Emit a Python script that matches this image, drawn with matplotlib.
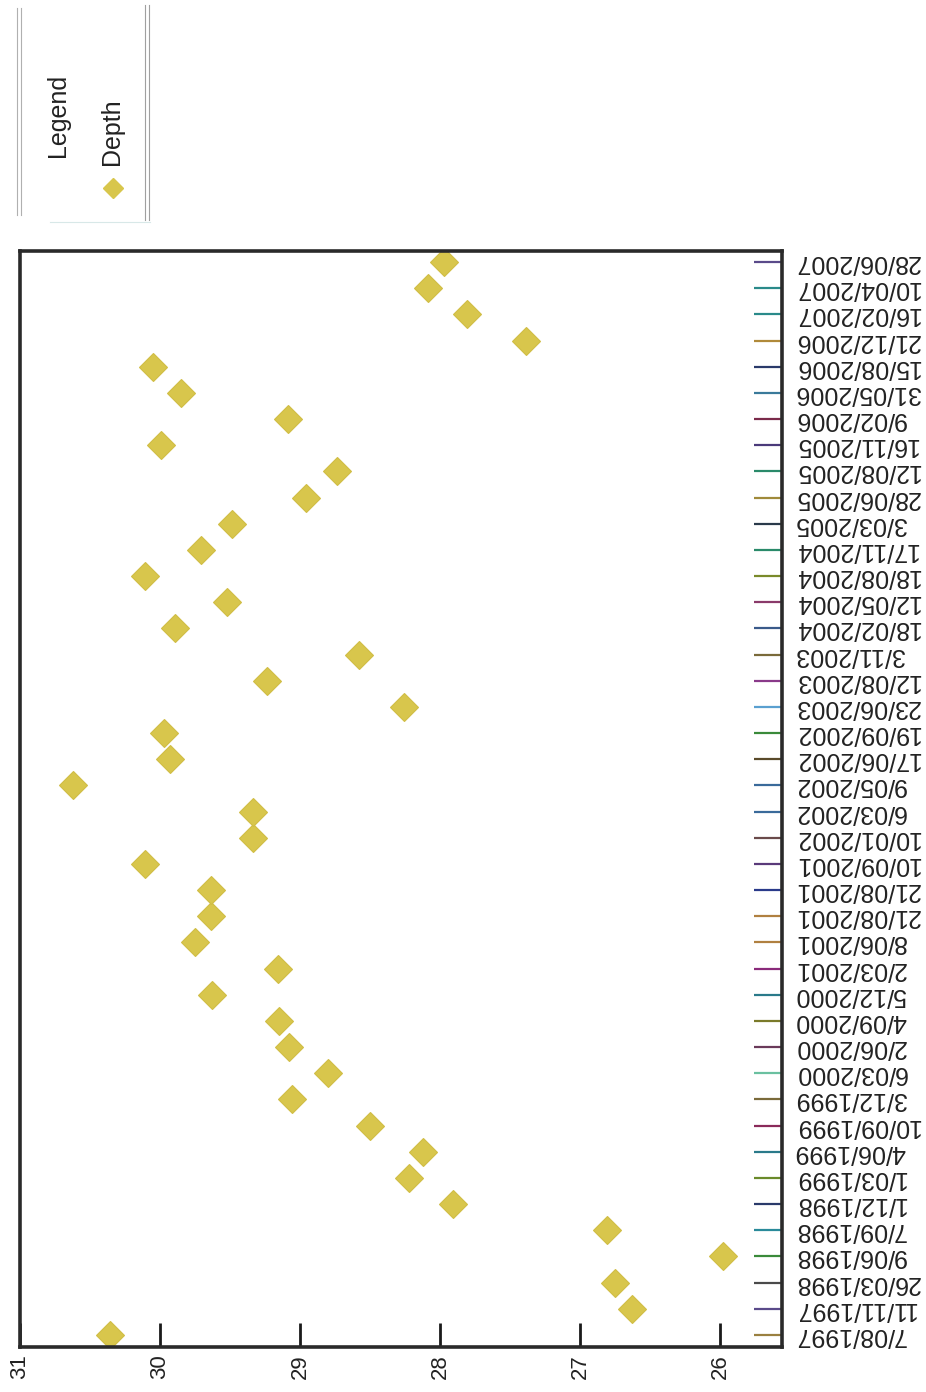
import matplotlib
matplotlib.use("Agg")
import matplotlib.pyplot as plt
from matplotlib.lines import Line2D

plt.rcParams['font.family'] = ['Liberation Sans', 'DejaVu Sans']

dates = ["7/08/1997", "11/11/1997", "26/03/1998", "9/06/1998", "7/09/1998",
         "1/12/1998", "1/03/1999", "4/06/1999", "10/09/1999", "3/12/1999",
         "6/03/2000", "2/06/2000", "4/09/2000", "5/12/2000", "2/03/2001",
         "8/06/2001", "21/08/2001", "21/08/2001", "10/09/2001", "10/01/2002",
         "6/03/2002", "9/05/2002", "17/06/2002", "19/09/2002", "23/06/2003",
         "12/08/2003", "3/11/2003", "18/02/2004", "12/05/2004", "18/08/2004",
         "17/11/2004", "3/03/2005", "28/06/2005", "12/08/2005", "16/11/2005",
         "9/02/2006", "31/05/2006", "15/08/2006", "21/12/2006", "16/02/2007",
         "10/04/2007", "28/06/2007"]

depth = [30.36, 26.63, 26.75, 25.98, 26.81,
         27.91, 28.22, 28.12, 28.50, 29.06,
         28.80, 29.08, 29.15, 29.63, 29.16,
         29.75, 29.64, 29.64, 30.11, 29.34,
         29.34, 30.62, 29.93, 29.97, 28.26,
         29.24, 28.58, 29.89, 29.52, 30.11,
         29.71, 29.49, 28.96, 28.74, 29.99,
         29.09, 29.85, 30.05, 27.39, 27.81,
         28.09, 27.97]

depth_ticks = [31, 30, 29, 28, 27, 26]

tick_colors = ["#9a8040", "#5a4a8a", "#4a4a4a", "#3a8a3a", "#2a8a9a",
               "#2a3a6a", "#6a8a2a", "#2a7a8a", "#8a2a5a", "#7a6a3a",
               "#6ac0a0", "#6a3a5a", "#7a7a2a", "#2a7a8a", "#8a2a7a",
               "#b08040", "#b08040", "#2a3a8a", "#5a3a7a", "#6a4a4a",
               "#3a6a9a", "#3a6a9a", "#5a4a2a", "#3a8a3a", "#5aa0d0",
               "#8a3a8a", "#7a6a3a", "#3a5a8a", "#8a3a6a", "#7a8a2a",
               "#2a8a6a", "#2a3a4a", "#a08a3a", "#2a8a6a", "#4a3a7a",
               "#7a2a4a", "#3a7a9a", "#2a3a6a", "#b08a3a", "#2a8a8a",
               "#2a8a8a", "#5a4a8a"]

W, H = 926, 1392
fig = plt.figure(figsize=(W / 100, H / 100), dpi=100)
fig.patch.set_facecolor("white")

left, right, top, bottom = 20, 782, 251, 1347
ax = fig.add_axes([left / W, (H - bottom) / H, (right - left) / W, (bottom - top) / H])
ax.set_facecolor("white")

idx = list(range(len(dates)))
ax.plot(depth, idx, linestyle="none", marker="D", markersize=14.5,
        color="#d8c64c", markeredgecolor="#d0bd45", markeredgewidth=0.8, zorder=3)

ax.set_xlim(31, 25.56)
ax.set_ylim(-0.46, 41.42)

ax.set_xticks(depth_ticks)
ax.set_xticklabels([str(t) for t in depth_ticks], rotation=90, fontsize=16, color="#222222")
ax.tick_params(axis="x", bottom=True, top=False, direction="in", length=0, pad=5)
# inward tick marks on the depth axis
ax.vlines(depth_ticks, 0, 0.022, transform=ax.get_xaxis_transform(),
          colors="#1a1a1a", linewidth=2.0, zorder=4, clip_on=False)

ax.yaxis.tick_right()
ax.set_yticks(idx)
ax.set_yticklabels(dates, rotation=180, fontsize=18, color="#222222")
ax.tick_params(axis="y", right=True, left=False, direction="in", length=20, width=1.6, pad=9)
for t, c in zip(ax.yaxis.get_major_ticks(), tick_colors):
    t.tick2line.set_markeredgecolor(c)
    t.tick2line.set_color(c)
for lbl in ax.get_yticklabels():
    lbl.set_ha("left")
    lbl.set_va("center")

for s in ax.spines.values():
    s.set_linewidth(2.6)
    s.set_color("#2a2a2a")
    s.set_zorder(5)

# legend (rotated, drawn manually)
def fx(x):
    return x / W

def fy(y):
    return (H - y) / H

for x0 in (17, 21):
    fig.add_artist(Line2D([fx(x0), fx(x0)], [fy(8), fy(215)], color="#b0b0b0", lw=0.8))
for x0 in (145, 149):
    fig.add_artist(Line2D([fx(x0), fx(x0)], [fy(5), fy(220)], color="#a0a0a0", lw=0.8))
fig.add_artist(Line2D([fx(50), fx(150)], [fy(222), fy(222)], color="#d8e8e8", lw=0.8))
fig.text(fx(58), fy(115), "Legend", rotation=90, ha="center", va="center",
         fontsize=18, color="#222222")
fig.text(fx(112), fy(132), "Depth", rotation=90, ha="center", va="center",
         fontsize=18, color="#222222")
fig.add_artist(Line2D([fx(113)], [fy(188)], marker="D", markersize=10,
                      color="#d8c64c", linestyle="none"))

fig.savefig("out.png", dpi=100, facecolor="white")
